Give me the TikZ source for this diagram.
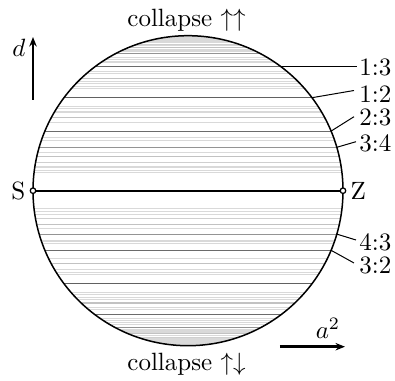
\documentclass[tikz,border=0pt]{standalone}
\usetikzlibrary{arrows.meta}
\tikzset{
  rim/.style={line width=0.6pt, black},
  leader/.style={line width=0.4pt, black},
  ratiolabel/.style={anchor=west, inner sep=0pt},
  axisarrow/.style={line width=1.1pt, -{Stealth[length=3.8pt,width=3pt]}},
  dotnode/.style={circle, draw, line width=0.5pt, fill=white, inner sep=0pt, minimum size=2.2pt},
}
\begin{document}
\begin{tikzpicture}[x=0.4pt,y=0.4pt]
\useasboundingbox (0,0) rectangle (395,381);
\coordinate (c) at (188,190.3);
% hatching lines for rational ratios p:q
\begin{scope}
  \clip (c) circle [radius=62pt];
  \foreach \q in {16,...,2} {
    \pgfmathtruncatemacro\qm{\q-1}
    \foreach \p in {1,...,\qm} {
      \pgfmathtruncatemacro\g{gcd(\p,\q)}
      \pgfmathtruncatemacro\s{\p+\q}
      \ifnum\g=1 \ifnum\s<18
        \pgfmathtruncatemacro\sh{\q==2 ? 62 : (\q==3 ? 58 : (\q==4 ? 42 : (\q==5 ? 24 : (\q==6 ? 19 : 15))))}
        \pgfmathsetmacro\fr{(\q*\q-\p*\p)/(\q*\q+\p*\p)}
        \pgfmathsetmacro\o{155*\fr}
        \draw[line width=0.45pt, black!\sh] (0,190.3+\o) -- (395,190.3+\o);
        \draw[line width=0.45pt, black!\sh] (0,190.3-\o) -- (395,190.3-\o);
      \fi\fi
    }
  }
\end{scope}
\draw[rim] (c) circle [radius=62pt];
% S and Z
\node[dotnode] (sdot) at (33,190.3) {};
\node[dotnode] (zdot) at (343,190.3) {};
\draw[line width=0.8pt] (sdot) -- (zdot);
\node[anchor=east, inner sep=1.5pt] (slab) at (sdot.west) {S};
\node[anchor=west, inner sep=1.5pt] (zlab) at (zdot.east) {Z};
% leaders and ratio labels
\coordinate (b13) at (281,314.3);
\coordinate (b12) at (312,283.3);
\coordinate (b23) at (331.1,249.9);
\coordinate (b34) at (336.8,233.7);
\coordinate (b43) at (336.8,146.9);
\coordinate (b32) at (331.1,130.7);
\coordinate (e13) at (357,314.3);
\coordinate (e12) at (354,290.5);
\coordinate (e23) at (354,264.3);
\coordinate (e34) at (356,239.3);
\coordinate (e43) at (356,141);
\coordinate (e32) at (354,118);
\draw[leader] (b13) -- (e13);
\draw[leader] (b12) -- (e12);
\draw[leader] (b23) -- (e23);
\draw[leader] (b34) -- (e34);
\draw[leader] (b43) -- (e43);
\draw[leader] (b32) -- (e32);
\node[ratiolabel] (l13) at (359,313.5) {1:3};
\node[ratiolabel] (l12) at (359,287) {1:2};
\node[ratiolabel] (l23) at (359,263.5) {2:3};
\node[ratiolabel] (l34) at (359,238) {3:4};
\node[ratiolabel] (l43) at (359,139) {4:3};
\node[ratiolabel] (l32) at (359,116) {3:2};
% collapse labels
\node (ctop) at (186.5,361) {collapse $\uparrow\uparrow$};
\node (cbot) at (186.5,17) {collapse $\uparrow\downarrow$};
% axes
\coordinate (d0) at (33,281);
\coordinate (d1) at (33,344);
\draw[axisarrow] (d0) -- (d1);
\node (dlab) at (19,333) {$d$};
\coordinate (a0) at (280,34.3);
\coordinate (a1) at (345,34.3);
\draw[axisarrow] (a0) -- (a1);
\node (alab) at (328,53) {$a^2$};
\end{tikzpicture}
\end{document}
